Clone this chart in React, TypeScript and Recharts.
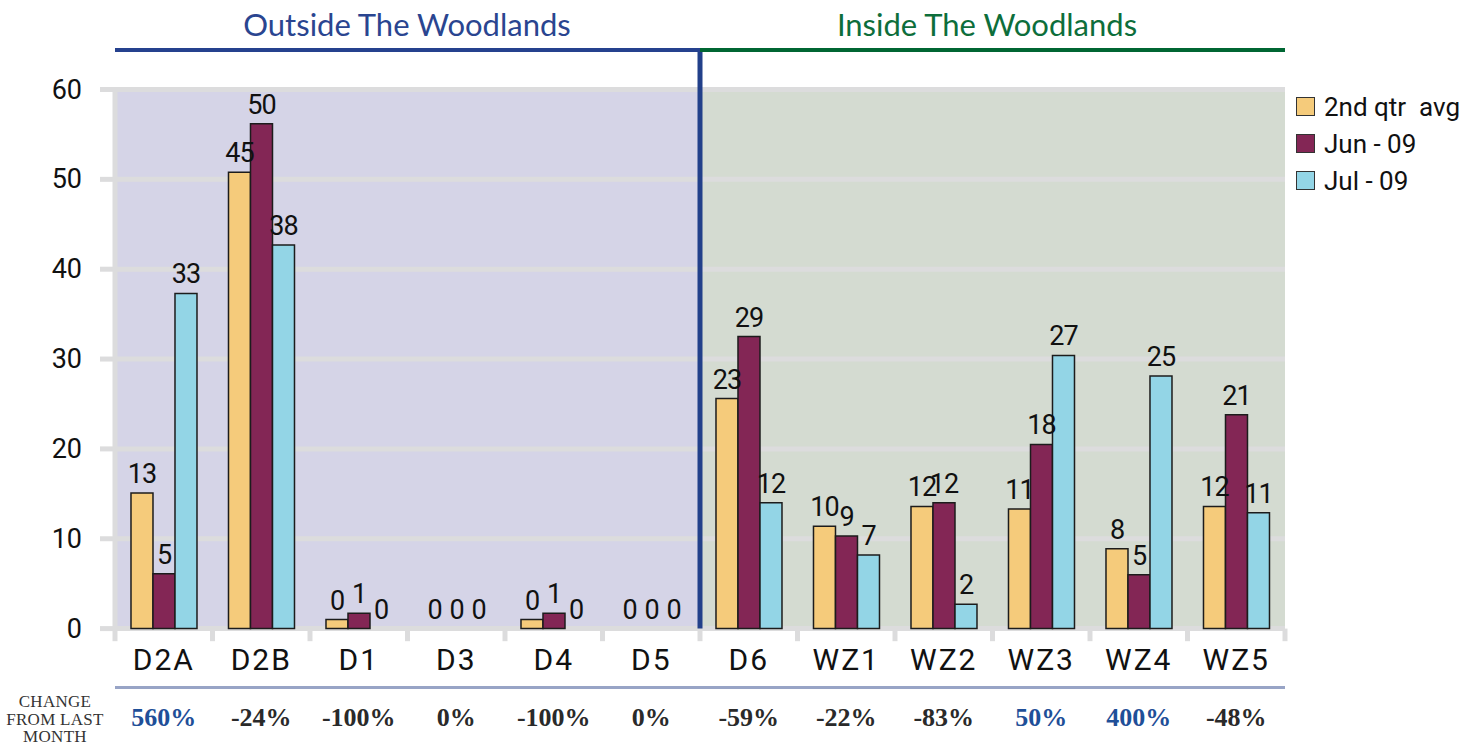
import React from 'react';
import { BarChart, Bar, XAxis, YAxis, CartesianGrid, ReferenceArea, ReferenceLine, LabelList, Rectangle } from 'recharts';

const categories = ['D2A', 'D2B', 'D1', 'D3', 'D4', 'D5', 'D6', 'WZ1', 'WZ2', 'WZ3', 'WZ4', 'WZ5'];

// bar heights as drawn in the picture
const qtrAvg = [15.1, 50.8, 1.0, 0, 1.0, 0, 25.6, 11.4, 13.6, 13.3, 8.9, 13.6];
const jun09 = [6.1, 56.2, 1.7, 0, 1.7, 0, 32.5, 10.3, 14.0, 20.5, 6.0, 23.8];
const jul09 = [37.3, 42.7, 0, 0, 0, 0, 14.0, 8.2, 2.7, 30.4, 28.1, 12.9];

// numbers printed above the bars
const qtrAvgLabels = [13, 45, 0, 0, 0, 0, 23, 10, 12, 11, 8, 12];
const jun09Labels = [5, 50, 1, 0, 1, 0, 29, 9, 12, 18, 5, 21];
const jul09Labels = [33, 38, 0, 0, 0, 0, 12, 7, 2, 27, 25, 11];

const changeFromLastMonth = ['560%', '-24%', '-100%', '0%', '-100%', '0%', '-59%', '-22%', '-83%', '50%', '400%', '-48%'];
const positiveChange = ['560%', '50%', '400%'];

const yTicks = [0, 10, 20, 30, 40, 50, 60];

const outsideCats = ['D2A', 'D5'];
const insideCats = ['D6', 'WZ5'];

const seriesNames = ['2nd qtr avg', 'Jun - 09', 'Jul - 09'];
const colors = ['#f5cb7b', '#832655', '#93d5e6'];

const data = categories.map((name, i) => ({
  name,
  qtr: qtrAvg[i],
  jun: jun09[i],
  jul: jul09[i],
  qtrLabel: qtrAvgLabels[i],
  junLabel: jun09Labels[i],
  julLabel: jul09Labels[i],
}));

const SANS = 'Roboto, "Open Sans", sans-serif';
const SERIF = '"Liberation Serif", "DejaVu Serif", serif';
const GRID = '#dcdcdd';

// zero-value bars get a hair of height so their labels still show; the shape skips drawing them
const tinyForZero = (value: number) => (value === 0 ? 0.01 : 0);

const BarShape = (props: any) => {
  if (props.height < 0.5) return <g />;
  return <Rectangle {...props} />;
};

const DataLabel = (props: any) => {
  const { x, y, width, value } = props;
  return (
    <text x={x + width / 2} y={y - 10} textAnchor="middle" fontFamily={SANS} fontSize={27} letterSpacing={-1} fill="#111">
      {value}
    </text>
  );
};

const CatTick = (props: any) => {
  const { x, y, payload } = props;
  return (
    <text x={x} y={y} dy={33} textAnchor="middle" fontFamily={SANS} fontSize={30} letterSpacing={2} fill="#111">
      {payload.value}
    </text>
  );
};

const ChangeTick = (props: any) => {
  const { x, y, index } = props;
  const v = changeFromLastMonth[index];
  return (
    <text
      x={x}
      y={y}
      dy={30}
      textAnchor="middle"
      fontFamily={SERIF}
      fontWeight="bold"
      fontSize={26}
      fill={positiveChange.includes(v) ? '#1f4f98' : '#2a2a2a'}
    >
      {v}
    </text>
  );
};

const YTick = (props: any) => {
  const { x, y, payload } = props;
  return (
    <text x={x} y={y} dy={9} textAnchor="end" fontFamily={SANS} fontSize={27} fill="#111">
      {payload.value}
    </text>
  );
};

export default function App() {
  const barKeys = ['qtr', 'jun', 'jul'];
  return (
    <div style={{ position: 'absolute', left: 0, top: 0, width: 1484, height: 747, background: '#fff', overflow: 'hidden' }}>
      <div style={{ position: 'absolute', left: 207, top: 5, width: 400, textAlign: 'center', whiteSpace: 'nowrap', fontFamily: 'Lato, sans-serif', fontSize: 31, color: '#2a4590' }}>
        Outside The Woodlands
      </div>
      <div style={{ position: 'absolute', left: 787, top: 5, width: 400, textAlign: 'center', whiteSpace: 'nowrap', fontFamily: 'Lato, sans-serif', fontSize: 31, color: '#0d6e3b' }}>
        Inside The Woodlands
      </div>
      <BarChart
        width={1484}
        height={747}
        data={data}
        margin={{ top: 89.5, right: 199, left: 45, bottom: 19.4 }}
        barCategoryGap="16.4%"
        barGap={0}
      >
        <ReferenceArea x1={outsideCats[0]} x2={outsideCats[1]} y1={0} y2={60} fill="#d5d4e7" fillOpacity={1} stroke="none" zIndex={-200} />
        <ReferenceArea x1={insideCats[0]} x2={insideCats[1]} y1={0} y2={60} fill="#d4dbd1" fillOpacity={1} stroke="none" zIndex={-200} />
        <CartesianGrid vertical={false} stroke={GRID} strokeWidth={5} />
        <XAxis dataKey="name" height={59} axisLine={false} tickLine={false} tick={<CatTick />} interval={0} />
        <XAxis
          xAxisId="chg"
          dataKey="name"
          height={40}
          axisLine={{ stroke: '#98a4c6', strokeWidth: 3 }}
          tickLine={false}
          tick={<ChangeTick />}
          interval={0}
        />
        <YAxis
          width={70}
          domain={[0, 60]}
          ticks={yTicks}
          interval={0}
          axisLine={{ stroke: GRID, strokeWidth: 5 }}
          tickLine={{ stroke: GRID, strokeWidth: 5 }}
          tickSize={15}
          tickMargin={18}
          tick={<YTick />}
        />
        {categories.map((c) => (
          <ReferenceLine
            key={'t' + c}
            segment={[{ x: c, y: 0 }, { x: c, y: -1.4 }]}
            position="start"
            ifOverflow="visible"
            stroke={GRID}
            strokeWidth={5}
          />
        ))}
        <ReferenceLine
          segment={[{ x: categories[11], y: 0 }, { x: categories[11], y: -1.4 }]}
          position="end"
          ifOverflow="visible"
          stroke={GRID}
          strokeWidth={5}
        />
        {barKeys.map((k, i) => (
          <Bar
            key={k}
            dataKey={k}
            name={seriesNames[i]}
            fill={colors[i]}
            stroke="#1c1c1c"
            strokeWidth={1.5}
            minPointSize={tinyForZero}
            shape={<BarShape />}
            isAnimationActive={false}
          >
            <LabelList dataKey={k + 'Label'} content={<DataLabel />} />
          </Bar>
        ))}
        <ReferenceLine
          segment={[{ x: 'D6', y: 0 }, { x: 'D6', y: 64.4 }]}
          position="start"
          ifOverflow="visible"
          stroke="#22408a"
          strokeWidth={5}
        />
        <ReferenceLine
          segment={[{ x: 'D2A', y: 64.4 }, { x: 'D6', y: 64.4 }]}
          position="start"
          ifOverflow="visible"
          stroke="#25418e"
          strokeWidth={4}
        />
        <ReferenceLine
          segment={[{ x: 'D5', y: 64.4 }, { x: 'WZ5', y: 64.4 }]}
          position="end"
          ifOverflow="visible"
          stroke="#006633"
          strokeWidth={4}
        />
      </BarChart>
      <div
        style={{
          position: 'absolute',
          left: 0,
          top: 693,
          width: 110,
          textAlign: 'center',
          fontFamily: SERIF,
          fontSize: 17,
          letterSpacing: 0.3,
          lineHeight: '17.5px',
          color: '#333',
        }}
      >
        CHANGE
        <br />
        FROM LAST
        <br />
        MONTH
      </div>
      <div style={{ position: 'absolute', left: 1296, top: 88 }}>
        {seriesNames.map((n, i) => (
          <div key={n} style={{ display: 'flex', alignItems: 'center', height: 37 }}>
            <div style={{ width: 19, height: 19, background: colors[i], border: '1.5px solid #333', boxSizing: 'border-box' }} />
            <span style={{ marginLeft: 9, fontFamily: SANS, fontSize: 26, color: '#111', whiteSpace: 'pre' }}>
              {n === '2nd qtr avg' ? '2nd qtr  avg' : n}
            </span>
          </div>
        ))}
      </div>
    </div>
  );
}
